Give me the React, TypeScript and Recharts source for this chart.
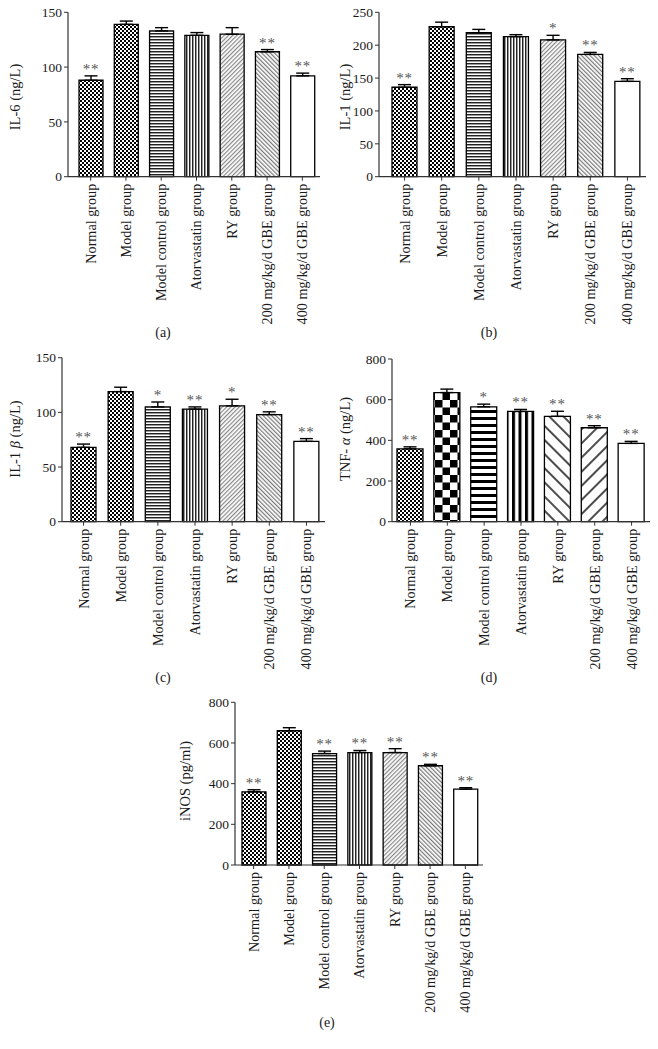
import { BarChart, Bar, XAxis, YAxis, ErrorBar, Cell, LabelList } from 'recharts';

const groups = [
  'Normal group',
  'Model group',
  'Model control group',
  'Atorvastatin group',
  'RY group',
  '200 mg/kg/d GBE group',
  '400 mg/kg/d GBE group',
];

// (a) IL-6
const il6Mean = [88, 139, 133, 129, 130, 114, 92];
const il6Err = [4, 3, 3, 2.5, 6, 2, 2.5];
const il6Sig = ['**', '', '', '', '', '**', '**'];
const il6Ticks = [0, 50, 100, 150];

// (b) IL-1
const il1Mean = [136, 228, 219, 213, 208, 186, 145];
const il1Err = [4, 7, 5, 3, 7, 3, 4];
const il1Sig = ['**', '', '', '', '*', '**', '**'];
const il1Ticks = [0, 50, 100, 150, 200, 250];

// (c) IL-1 beta
const il1bMean = [68, 119, 105, 103, 106, 98, 73.5];
const il1bErr = [3, 4, 4.5, 2, 6, 2.5, 2.5];
const il1bSig = ['**', '', '*', '**', '*', '**', '**'];
const il1bTicks = [0, 50, 100, 150];

// (d) TNF-alpha
const tnfMean = [358, 635, 565, 542, 518, 462, 385];
const tnfErr = [10, 17, 13, 10, 25, 10, 10];
const tnfSig = ['**', '', '*', '**', '**', '**', '**'];
const tnfTicks = [0, 200, 400, 600, 800];

// (e) iNOS
const inosMean = [360, 660, 548, 553, 553, 488, 373];
const inosErr = [10, 15, 12, 10, 19, 7, 7];
const inosSig = ['**', '', '**', '**', '**', '**', '**'];
const inosTicks = [0, 200, 400, 600, 800];

const fineFills = ['url(#chkS)', 'url(#chkS)', 'url(#hF)', 'url(#vF)', 'url(#dF)', 'url(#bF)', '#fff'];
const coarseFills = ['url(#chkS)', 'url(#chkL)', 'url(#hL)', 'url(#vL)', 'url(#bL)', 'url(#dL)', '#fff'];

const FONT = '"Liberation Serif", "Times New Roman", serif';

function Patterns() {
  return (
    <svg width={0} height={0} style={{ position: 'absolute' }}>
      <defs>
        <pattern id="chkS" width="4" height="4" patternUnits="userSpaceOnUse">
          <rect width="4" height="4" fill="#fff" />
          <rect width="2" height="2" fill="#000" />
          <rect x="2" y="2" width="2" height="2" fill="#000" />
        </pattern>
        <pattern id="hF" width="4" height="3" patternUnits="userSpaceOnUse">
          <rect width="4" height="3" fill="#fff" />
          <rect width="4" height="1" fill="#222" />
          <rect y="1" width="4" height="1" fill="#999" />
        </pattern>
        <pattern id="vF" width="3" height="4" patternUnits="userSpaceOnUse">
          <rect width="3" height="4" fill="#fff" />
          <rect width="1" height="4" fill="#222" />
          <rect x="1" width="1" height="4" fill="#999" />
        </pattern>
        <pattern id="dF" width="3" height="3" patternUnits="userSpaceOnUse" patternTransform="rotate(45)">
          <rect width="3" height="3" fill="#fff" />
          <line x1="0.6" y1="0" x2="0.6" y2="3" stroke="#888" strokeWidth="1.2" />
        </pattern>
        <pattern id="bF" width="3" height="3" patternUnits="userSpaceOnUse" patternTransform="rotate(-45)">
          <rect width="3" height="3" fill="#fff" />
          <line x1="0.6" y1="0" x2="0.6" y2="3" stroke="#777" strokeWidth="1.2" />
        </pattern>
        <pattern id="chkL" width="15" height="15" patternUnits="userSpaceOnUse">
          <rect width="15" height="15" fill="#fff" />
          <rect width="7.5" height="7.5" fill="#000" />
          <rect x="7.5" y="7.5" width="7.5" height="7.5" fill="#000" />
        </pattern>
        <pattern id="hL" width="7" height="7" patternUnits="userSpaceOnUse">
          <rect width="7" height="7" fill="#fff" />
          <rect width="7" height="3" fill="#000" />
        </pattern>
        <pattern id="vL" width="6.5" height="7" patternUnits="userSpaceOnUse">
          <rect width="6.5" height="7" fill="#fff" />
          <rect width="3" height="7" fill="#000" />
        </pattern>
        <pattern id="bL" width="10" height="10" patternUnits="userSpaceOnUse" patternTransform="rotate(-45)">
          <rect width="10" height="10" fill="#fff" />
          <line x1="1" y1="0" x2="1" y2="10" stroke="#000" strokeWidth="1.4" />
        </pattern>
        <pattern id="dL" width="10" height="10" patternUnits="userSpaceOnUse" patternTransform="rotate(45)">
          <rect width="10" height="10" fill="#fff" />
          <line x1="1" y1="0" x2="1" y2="10" stroke="#000" strokeWidth="1.4" />
        </pattern>
      </defs>
    </svg>
  );
}

function GroupTick(props: any) {
  const { x, y, payload } = props;
  return (
    <g transform={`translate(${x},${y})`}>
      <text
        transform="rotate(-90)"
        x={-1}
        y={0}
        dy="0.35em"
        textAnchor="end"
        fontSize={14.2}
        fontFamily={FONT}
        fill="#1a1a1a"
      >
        {payload.value}
      </text>
    </g>
  );
}

function makeSig(means: number[], errs: number[], sigs: string[]) {
  return (props: any) => {
    const vb = props.viewBox ?? props;
    const i = props.index;
    const s = sigs[i];
    if (!s) return null;
    const { x, y, width, height } = vb;
    const errPx = (Math.abs(height) * errs[i]) / means[i];
    return (
      <text
        x={x + width / 2}
        y={y - errPx - 2}
        textAnchor="middle"
        fontSize={15}
        fontFamily={FONT}
        fill="#555"
        letterSpacing={0.8}
      >
        {s}
      </text>
    );
  };
}

type PanelProps = {
  left: number;
  top: number;
  w: number;
  h: number;
  means: number[];
  errs: number[];
  sigs: string[];
  ticks: number[];
  fills: string[];
  yWidth: number;
  mTop: number;
  mRight: number;
  mBottom: number;
  padLeft: number;
  barSize: number;
};

function Panel(p: PanelProps) {
  const data = groups.map((g, i) => ({ name: g, v: p.means[i], e: [0, p.errs[i]], sig: p.sigs[i] }));
  const max = p.ticks[p.ticks.length - 1];
  return (
    <div style={{ position: 'absolute', left: p.left, top: p.top }}>
      <BarChart
        width={p.w}
        height={p.h}
        data={data}
        margin={{ top: p.mTop, right: p.mRight, left: 0, bottom: p.mBottom }}
      >
        <XAxis
          dataKey="name"
          interval={0}
          height={150}
          padding={{ left: p.padLeft, right: 0 }}
          tick={<GroupTick />}
          tickSize={4}
          tickMargin={2}
          stroke="#333"
          axisLine={{ stroke: '#333', strokeWidth: 1.2 }}
          tickLine={{ stroke: '#333' }}
        />
        <YAxis
          width={p.yWidth}
          domain={[0, max]}
          ticks={p.ticks}
          interval={0}
          tickSize={4}
          tickMargin={2}
          axisLine={{ stroke: '#333', strokeWidth: 1.2 }}
          tickLine={{ stroke: '#333' }}
          tick={{ fontSize: 13.5, fontFamily: FONT, fill: '#1a1a1a' }}
        />
        <Bar dataKey="v" barSize={p.barSize} stroke="#000" strokeWidth={1.3} isAnimationActive={false}>
          {data.map((d, i) => (
            <Cell key={d.name} fill={p.fills[i]} />
          ))}
          <ErrorBar dataKey="e" width={6.5} strokeWidth={1.4} stroke="#000" direction="y" />
          <LabelList dataKey="sig" content={makeSig(p.means, p.errs, p.sigs)} />
        </Bar>
      </BarChart>
    </div>
  );
}

function YTitle({ x, y, children }: { x: number; y: number; children: any }) {
  return (
    <div
      style={{
        position: 'absolute',
        left: x,
        top: y,
        transform: 'translate(-50%, -50%) rotate(-90deg)',
        whiteSpace: 'nowrap',
        fontFamily: FONT,
        fontSize: 14.5,
        color: '#1a1a1a',
      }}
    >
      {children}
    </div>
  );
}

function Caption({ x, y, text }: { x: number; y: number; text: string }) {
  return (
    <div
      style={{
        position: 'absolute',
        left: x,
        top: y,
        transform: 'translate(-50%, -50%)',
        fontFamily: FONT,
        fontSize: 14,
        color: '#1a1a1a',
      }}
    >
      {text}
    </div>
  );
}

export default function App() {
  return (
    <div style={{ position: 'absolute', left: 0, top: 0, width: 658, height: 1049, background: '#fff', overflow: 'hidden' }}>
      <Patterns />
      <Panel left={0} top={0} w={330} h={340} means={il6Mean} errs={il6Err} sigs={il6Sig} ticks={il6Ticks}
        fills={fineFills} yWidth={68} mTop={12.3} mRight={10} mBottom={13.3} padLeft={5} barSize={24} />
      <Panel left={330} top={0} w={328} h={340} means={il1Mean} errs={il1Err} sigs={il1Sig} ticks={il1Ticks}
        fills={fineFills} yWidth={49} mTop={12.3} mRight={12} mBottom={13.3} padLeft={7} barSize={25} />
      <Panel left={0} top={340} w={330} h={340} means={il1bMean} errs={il1bErr} sigs={il1bSig} ticks={il1bTicks}
        fills={fineFills} yWidth={62} mTop={17.7} mRight={5} mBottom={8.3} padLeft={3} barSize={25} />
      <Panel left={330} top={340} w={328} h={340} means={tnfMean} errs={tnfErr} sigs={tnfSig} ticks={tnfTicks}
        fills={coarseFills} yWidth={62} mTop={19} mRight={8} mBottom={8.3} padLeft={0} barSize={26} />
      <Panel left={160} top={680} w={340} h={340} means={inosMean} errs={inosErr} sigs={inosSig} ticks={inosTicks}
        fills={fineFills} yWidth={75} mTop={22.3} mRight={17} mBottom={5} padLeft={1} barSize={24} />

      <YTitle x={15} y={97}>IL-6 (ng/L)</YTitle>
      <YTitle x={345} y={97}>IL-1 (ng/L)</YTitle>
      <YTitle x={15} y={439}>IL-1 <i>β</i> (ng/L)</YTitle>
      <YTitle x={345} y={439}>TNF- <i>α</i> (ng/L)</YTitle>
      <YTitle x={185} y={781}>iNOS (pg/ml)</YTitle>

      <Caption x={163} y={333} text="(a)" />
      <Caption x={489} y={333} text="(b)" />
      <Caption x={163} y={678} text="(c)" />
      <Caption x={489} y={678} text="(d)" />
      <Caption x={327} y={1023} text="(e)" />
    </div>
  );
}
